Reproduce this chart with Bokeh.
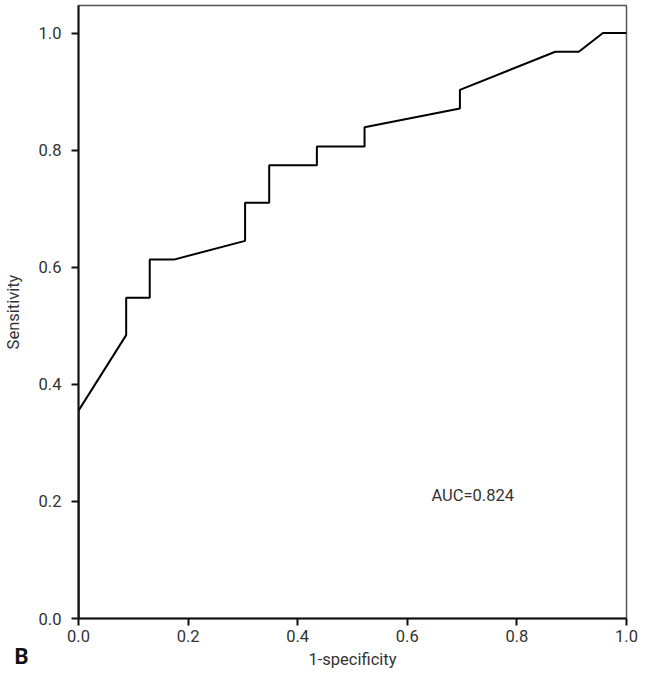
from bokeh.plotting import figure
from bokeh.models import Range1d, FixedTicker, PrintfTickFormatter, Label
from bokeh.embed import file_html
from bokeh.resources import INLINE

# ROC curve points
fpr = [0.0, 0.0, 0.087, 0.087, 0.130, 0.130, 0.174, 0.304, 0.304, 0.348, 0.348,
       0.435, 0.435, 0.522, 0.522, 0.696, 0.696, 0.870, 0.913, 0.957, 1.0]
tpr = [0.0, 0.355, 0.484, 0.548, 0.548, 0.613, 0.613, 0.645, 0.710, 0.710, 0.774,
       0.774, 0.806, 0.806, 0.839, 0.871, 0.903, 0.968, 0.968, 1.0, 1.0]
tick_values = [0.0, 0.2, 0.4, 0.6, 0.8, 1.0]
auc_text = "AUC=0.824"
panel_letter = "B"

FONT = "Roboto"
FS = "16.5px"

p = figure(width=640, height=671, output_backend="svg", toolbar_location=None,
           x_range=Range1d(0, 1), y_range=Range1d(0, 1.047),
           min_border_left=72, min_border_right=10, min_border_top=5,
           min_border_bottom=53)
p.grid.visible = False
p.outline_line_color = "#555555"
p.outline_line_width = 1.5
p.background_fill_color = "white"
p.border_fill_color = "white"

for ax in (p.xaxis[0], p.yaxis[0]):
    ax.ticker = FixedTicker(ticks=tick_values)
    ax.formatter = PrintfTickFormatter(format="%.1f")
    ax.major_label_text_font = FONT
    ax.major_label_text_font_size = FS
    ax.major_label_text_color = "#333333"
    ax.axis_label_text_font = FONT
    ax.axis_label_text_font_size = FS
    ax.axis_label_text_font_style = "normal"
    ax.axis_label_text_color = "#333333"
    ax.axis_line_color = "#111111"
    ax.axis_line_width = 2
    ax.major_tick_line_color = "#111111"
    ax.major_tick_line_width = 2
    ax.major_tick_in = 0
    ax.major_tick_out = 7
    ax.minor_tick_line_color = None

p.xaxis.axis_label = "1-specificity"
p.yaxis.axis_label = "Sensitivity"
p.xaxis.major_label_standoff = 4
p.yaxis.major_label_standoff = 10
p.xaxis.axis_label_standoff = 5
p.yaxis.axis_label_standoff = 13

p.line(fpr, tpr, line_color="black", line_width=2)

p.add_layout(Label(x=0.644, y=0.210, text=auc_text, text_font=FONT,
                   text_font_size=FS, text_color="#333333",
                   text_baseline="alphabetic"))
# panel letter sits outside the frame: hosted in a narrow side panel so it is not clipped
p.add_layout(Label(x=-0.117, y=-0.065, text=panel_letter, text_font=FONT,
                   text_font_size="22px", text_font_style="bold",
                   text_color="#111111", text_baseline="alphabetic"), "right")

open("out.html", "w").write(file_html(p, INLINE))
